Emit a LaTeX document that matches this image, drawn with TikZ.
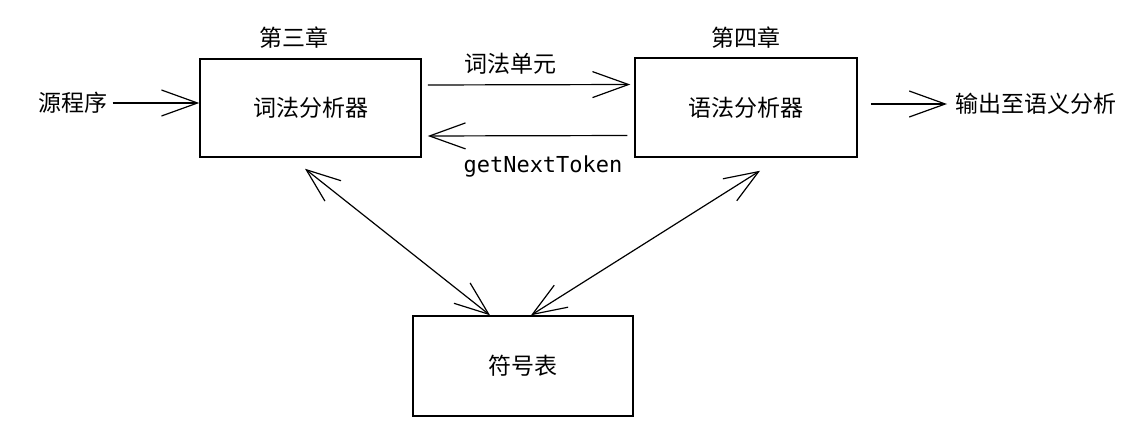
\documentclass[tikz,border=0pt]{standalone}
\usepackage{fontspec}
\newfontfamily\cjk{Noto Sans CJK SC}
\newfontfamily\hand{DejaVu Sans Mono}
\usetikzlibrary{calc,arrows.meta,positioning}

\begin{document}
\begin{tikzpicture}[x = 1pt, y = 1pt,
  box/.style = {draw, line width=1.5pt, minimum width=221pt, minimum height=98pt, font=\cjk\fontsize{23}{23}\selectfont},
  txt/.style = {font=\cjk\fontsize{23}{23}\selectfont, inner sep=0pt},
  barb/.style = {line width=1.2pt, -{Straight Barb[length=36pt, width=26pt]}},
  bibarb/.style = {line width=1.2pt, {Straight Barb[length=34pt, width=26pt]}-{Straight Barb[length=34pt, width=26pt]}}]
\useasboundingbox (0,0) rectangle (1144,432);

%boxes
\node[box] (lexer) at (310.5,324) {词法分析器};
\node[box, minimum width=222pt, minimum height=99pt] (parser) at (746,324.5) {语法分析器};
\node[box, minimum width=220pt, minimum height=100pt] (symtab) at (523,66) {符号表};

%chapter labels
\node[txt] (ch3) at (294,394) {第三章};
\node[txt] (ch4) at (746,394) {第四章};

%input and output
\node[txt] (src) at (73,329) {源程序};
\node[txt, anchor = west] (out) at (955,328) {输出至语义分析};
\draw[barb, shorten <=5pt] (src.east) -- (src.east -| lexer.west);
\draw[barb, shorten <=13pt, shorten >=8pt] (parser.east |- out.west) -- (out.west);

%tokens between the two analysers
\node[txt] (unit) at (510,368) {词法单元};
\draw[barb, shorten <=6pt, shorten >=4pt] ([yshift=23pt]lexer.east) -- ([yshift=23pt]parser.west);
\node[font=\hand\fontsize{22}{22}\selectfont, inner sep=0pt] (next) at (543,265) {getNextToken};
\draw[barb, shorten <=7pt, shorten >=6pt] ([yshift=-28pt]parser.west) -- ([yshift=-28pt]lexer.east);

%symbol table links
\draw[bibarb] ([shift={(-5.5,-11)}]lexer.south) -- ([xshift=-33pt]symtab.north);
\draw[bibarb] ([shift={(14,-13)}]parser.south) -- ([xshift=8pt]symtab.north);

\end{tikzpicture}
\end{document}
